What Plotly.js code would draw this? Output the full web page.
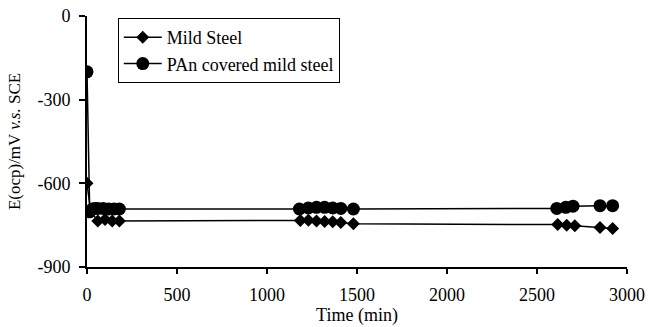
<!DOCTYPE html>
<html>
<head>
<meta charset="utf-8">
<script src="https://cdn.plot.ly/plotly-3.0.1.min.js"></script>
<style>html,body{margin:0;padding:0;background:#fff}#chart{width:652px;height:327px}</style>
</head>
<body>
<div id="chart"></div>
<script>
// Time (min) and open-circuit potential (mV vs SCE)
var mildTime = [0, 20, 60, 100, 140, 180, 1185, 1230, 1275, 1320, 1365, 1410, 1480, 2615, 2665, 2710, 2850, 2920];
var mildE    = [-600, -700, -735, -730, -735, -735, -733, -732, -735, -737, -738, -740, -745, -748, -750, -752, -758, -762];
var panTime  = [0, 15, 30, 45, 60, 90, 120, 150, 180, 1180, 1230, 1275, 1320, 1365, 1410, 1480, 2610, 2660, 2700, 2850, 2920];
var panE     = [-200, -702, -692, -690, -690, -690, -692, -692, -692, -692, -688, -686, -686, -688, -690, -692, -690, -686, -682, -680, -680];
var seriesNames = ["Mild Steel", "PAn covered mild steel"];
var yTickVals = [-900, -600, -300, 0];
var yTickText = ["-900", "-600", "-300", "0"];
var xTickVals = [0, 500, 1000, 1500, 2000, 2500, 3000];

var fam = "Liberation Serif, Times New Roman, serif";
var font = {family: fam, size: 18, color: "#000"};
var yTitleFont = {family: fam, size: 17, color: "#000"};

var traces = [
  {x: mildTime, y: mildE, name: seriesNames[0], mode: "lines+markers", type: "scatter",
   line: {color: "#000", width: 1.5}, marker: {symbol: "diamond", size: 10, color: "#000"}},
  {x: panTime, y: panE, name: seriesNames[1], mode: "lines+markers", type: "scatter",
   line: {color: "#000", width: 1.5}, marker: {symbol: "circle", size: 13, color: "#000"}}
];

var layout = {
  width: 652, height: 327,
  margin: {l: 87, r: 25, t: 16, b: 60},
  paper_bgcolor: "#fff", plot_bgcolor: "#fff",
  font: font,
  showlegend: true,
  legend: {x: 0.057, y: 0.992, xanchor: "left", yanchor: "top", bgcolor: "#fff",
           bordercolor: "#000", borderwidth: 1, font: font, tracegroupgap: 0, itemwidth: 38},
  xaxis: {range: [0, 3000], tickvals: xTickVals, ticks: "outside", ticklen: 5, tickwidth: 2,
          tickcolor: "#000", showline: true, linecolor: "#000", linewidth: 2, showgrid: false,
          zeroline: false, tickfont: font, ticklabelstandoff: 5,
          title: {text: "Time (min)", font: font, standoff: 2}},
  yaxis: {range: [-900, 0], tickvals: yTickVals, ticktext: yTickText, ticks: "outside", ticklen: 6,
          tickwidth: 2, tickcolor: "#000", showline: true, linecolor: "#000", linewidth: 2,
          showgrid: false, zeroline: false, tickfont: font, ticklabelstandoff: 5,
          title: {text: "E(ocp)/mV <i>v.s.</i> SCE", font: yTitleFont, standoff: 12}}
};

Plotly.newPlot("chart", traces, layout, {displayModeBar: false, staticPlot: true});
</script>
</body>
</html>
